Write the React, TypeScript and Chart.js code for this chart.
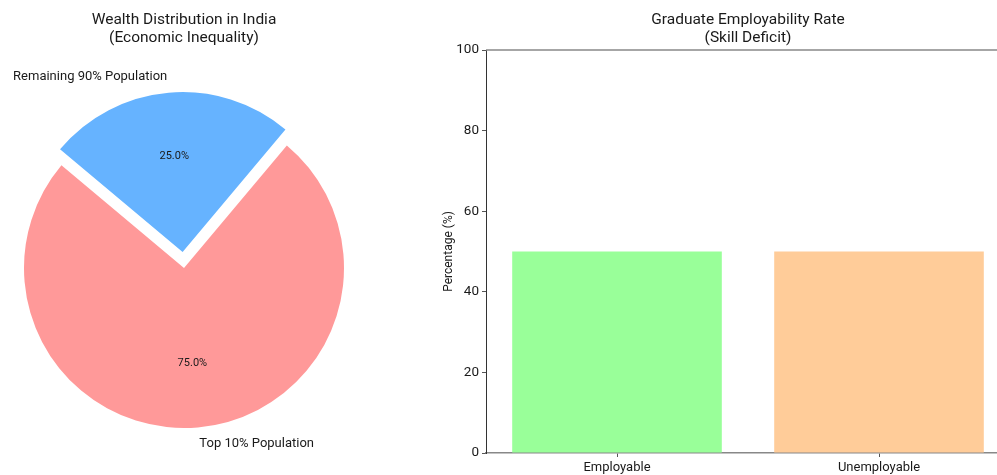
import React, { useEffect, useRef } from "react";
import { Chart, registerables } from "chart.js";

Chart.register(...registerables);

const FONT = "Roboto, 'Noto Sans', sans-serif";

// Pie data
const pieLabels = ["Top 10% Population", "Remaining 90% Population"];
const pieValues = [75, 25];
const pieColors = ["#ff9999", "#66b3ff"];
const pieExplode = [0, 0.1];
const pieTitle = ["Wealth Distribution in India", "(Economic Inequality)"];

// Bar data
const barCategories = ["Employable", "Unemployable"];
const barValues = [50, 50];
const barColors = ["#99ff99", "#ffcc99"];
const barTitle = ["Graduate Employability Rate", "(Skill Deficit)"];
const yTicks = [0, 20, 40, 60, 80, 100];
const yLabel = "Percentage (%)";

const PIE_RADIUS = 160;

const titlePlugin = (lines: string[]) => ({
  id: "customTitle",
  afterDraw(chart: any) {
    const ctx = chart.ctx;
    ctx.save();
    ctx.fillStyle = "#1a1a1a";
    ctx.font = `15.5px ${FONT}`;
    ctx.textAlign = "center";
    ctx.textBaseline = "middle";
    const x = (chart.chartArea.left + chart.chartArea.right) / 2;
    ctx.fillText(lines[0], x, 20);
    ctx.fillText(lines[1], x, 38);
    ctx.restore();
  },
});

const pieLabelPlugin = {
  id: "pieLabels",
  afterDatasetsDraw(chart: any) {
    const ctx = chart.ctx;
    const meta = chart.getDatasetMeta(0);
    const total = pieValues.reduce((a, b) => a + b, 0);
    ctx.save();
    ctx.fillStyle = "#1a1a1a";
    meta.data.forEach((arc: any, i: number) => {
      const { x, y, startAngle, endAngle, outerRadius } = arc.getProps(
        ["x", "y", "startAngle", "endAngle", "outerRadius"],
        true
      );
      const off = (arc.options.offset || 0) / 4;
      const mid = (startAngle + endAngle) / 2;
      const c = Math.cos(mid);
      const s = Math.sin(mid);
      const dl = outerRadius * 1.1 + off;
      ctx.font = `13px ${FONT}`;
      ctx.textBaseline = "middle";
      ctx.textAlign = c > 0 ? "left" : "right";
      ctx.fillText(pieLabels[i], x + c * dl, y + s * dl);
      const dp = outerRadius * 0.6 + off;
      ctx.font = `11px ${FONT}`;
      ctx.textAlign = "center";
      const pct = ((pieValues[i] / total) * 100).toFixed(1) + "%";
      ctx.fillText(pct, x + c * dp, y + s * dp);
    });
    ctx.restore();
  },
};

const topLinePlugin = {
  id: "topLine",
  afterDraw(chart: any) {
    const { ctx, chartArea } = chart;
    ctx.save();
    ctx.strokeStyle = "#888";
    ctx.lineWidth = 1.5;
    ctx.beginPath();
    ctx.moveTo(chartArea.left, chartArea.top);
    ctx.lineTo(chartArea.right, chartArea.top);
    ctx.stroke();
    ctx.restore();
  },
};

function PieChart() {
  const ref = useRef<HTMLCanvasElement>(null);
  useEffect(() => {
    const chart = new Chart(ref.current!, {
      type: "pie",
      data: {
        labels: pieLabels,
        datasets: [
          {
            data: pieValues,
            backgroundColor: pieColors,
            borderWidth: 0,
            // Chart.js draws an arc moved by offset / 4
            offset: pieExplode.map((e) => e * PIE_RADIUS * 4),
          } as any,
        ],
      },
      options: {
        animation: false,
        responsive: true,
        maintainAspectRatio: false,
        rotation: 40,
        radius: PIE_RADIUS,
        layout: { padding: { top: 61, bottom: 0, left: 0, right: 0 } },
        plugins: { legend: { display: false }, tooltip: { enabled: false } },
      } as any,
      plugins: [pieLabelPlugin, titlePlugin(pieTitle)],
    });
    return () => chart.destroy();
  }, []);
  return <canvas ref={ref} />;
}

function BarChart() {
  const ref = useRef<HTMLCanvasElement>(null);
  useEffect(() => {
    const chart = new Chart(ref.current!, {
      type: "bar",
      data: {
        labels: barCategories,
        datasets: [
          {
            data: barValues,
            backgroundColor: barColors,
            borderWidth: 0,
            categoryPercentage: 1,
            barPercentage: 0.8,
          },
        ],
      },
      options: {
        animation: false,
        responsive: true,
        maintainAspectRatio: false,
        layout: { padding: { top: 50, bottom: 0, left: 22, right: 30 } },
        plugins: { legend: { display: false }, tooltip: { enabled: false } },
        scales: {
          x: {
            offset: true,
            grid: { offset: false, drawOnChartArea: false, drawTicks: true, tickLength: 4, color: "#555" },
            border: { color: "#888", width: 1.5 },
            ticks: { color: "#1a1a1a", font: { family: FONT, size: 13 }, padding: 3 },
            afterFit: (s: any) => {
              s.height = 22;
            },
          },
          y: {
            min: 0,
            max: 100,
            afterBuildTicks: (s: any) => {
              s.ticks = yTicks.map((v) => ({ value: v }));
            },
            grid: { drawOnChartArea: false, drawTicks: true, tickLength: 4, color: "#555" },
            border: { color: "#333", width: 1 },
            ticks: { color: "#1a1a1a", font: { family: FONT, size: 13.5 }, padding: 3 },
            title: { display: true, text: yLabel, color: "#1a1a1a", font: { family: FONT, size: 12 }, padding: 0 },
            afterFit: (s: any) => {
              s.width = 44;
            },
          },
        },
      } as any,
      plugins: [topLinePlugin, titlePlugin(barTitle)],
    });
    return () => chart.destroy();
  }, []);
  return <canvas ref={ref} />;
}

export default function App() {
  return (
    <div
      style={{
        position: "fixed",
        left: 0,
        top: 0,
        width: 997,
        height: 475,
        overflow: "hidden",
        background: "#fff",
      }}
    >
      <div style={{ position: "absolute", left: 0, top: 0, width: 368, height: 475 }}>
        <PieChart />
      </div>
      <div style={{ position: "absolute", left: 420, top: 0, width: 620, height: 475 }}>
        <BarChart />
      </div>
    </div>
  );
}
